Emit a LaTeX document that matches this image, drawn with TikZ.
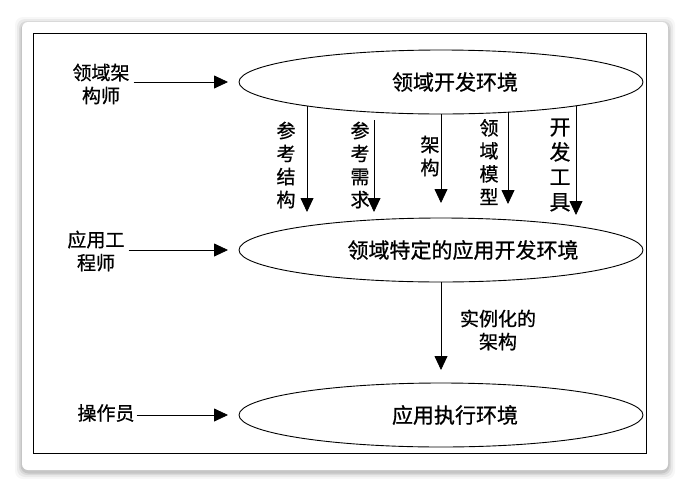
\documentclass[tikz,border=0pt]{standalone}
\usepackage{fontspec}
\setmainfont[FakeBold=0.8,AutoFakeBold=0.8]{Noto Sans CJK SC}
\usetikzlibrary{arrows.meta,calc,shapes.geometric}
\begin{document}
\begin{tikzpicture}[x=1pt,y=-1pt,
  env/.style={draw,ellipse,line width=0.9pt,minimum width=404pt,minimum height=64pt,inner sep=0pt,outer sep=0pt},
  lbl/.style={font=\fontsize{19}{23}\selectfont,align=center,inner sep=0pt},
  vlbl/.style={font=\fontsize{19}{23}\selectfont,align=center,inner sep=0pt},
  arr/.style={line width=0.8pt,-{Triangle[length=14pt,width=13pt]}}]
\useasboundingbox (0,0) rectangle (680,483);
\fill[white] (0,0) rectangle (680,483);
\foreach \i/\o in {7/0.03,5/0.05,3/0.07,1.5/0.09}
  \fill[black,opacity=\o,rounded corners=8pt] (22-\i,22-\i+2) rectangle (668+\i,470+\i+2);
\fill[white,rounded corners=6pt] (22,22) rectangle (668,470);
\draw[line width=1pt] (33,33) rectangle (646,453);
\node[env] (top) at (441,82) {};
\node[env] (mid) at (441,250) {};
\node[env] (bot) at (441,415) {};
\node[lbl,font=\fontsize{21}{24}\selectfont] (ttop) at (455,82) {领域开发环境};
\node[lbl,font=\fontsize{21}{24}\selectfont] (tmid) at (463,250) {领域特定的应用开发环境};
\node[lbl,font=\fontsize{21}{24}\selectfont] (tbot) at (455,415) {应用执行环境};
\node[lbl] (r1) at (101,84) {领域架\\构师};
\node[lbl] (r2) at (96,251) {应用工\\程师};
\node[lbl] (r3) at (106,413) {操作员};
\draw[arr,shorten >=11pt] (r1.east |- top.west) ++(4,0) -- (top.west);
\draw[arr,shorten >=11pt] (r2.east |- mid.west) ++(4,0) -- (mid.west);
\draw[arr,shorten >=11pt] (r3.east |- bot.west) ++(2,0) -- (bot.west);
\coordinate (e1) at (307,212);
\coordinate (e2) at (374,212);
\coordinate (e3) at (441,203);
\coordinate (e4) at (508,204);
\coordinate (e5) at (576,215);
\draw[arr] ($(top.center)+(-134,24)$) -- (e1);
\draw[arr] ($(top.center)+(-67,38)$) -- (e2);
\draw[arr] (top.south) -- (e3);
\draw[arr] ($(top.center)+(67,30)$) -- (e4);
\draw[arr] ($(top.center)+(135,24)$) -- (e5);
\node[vlbl] (v1) at (286,165) {参\\考\\结\\构};
\node[vlbl] (v2) at (360,165) {参\\考\\需\\求};
\node[vlbl] (v3) at (430,156) {架\\构};
\node[vlbl] (v4) at (489,162) {领\\域\\模\\型};
\node[vlbl,font=\fontsize{21}{25}\selectfont] (v5) at (560,165) {开\\发\\工\\具};
\coordinate (e6) at (441,370);
\draw[arr] (mid.south) -- (e6);
\node[lbl] (inst) at (498,330) {实例化的\\架构};
\end{tikzpicture}
\end{document}
